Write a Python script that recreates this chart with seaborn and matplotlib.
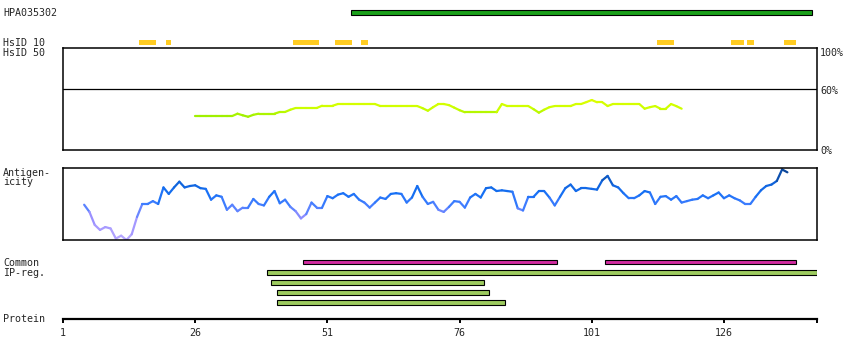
import numpy as np
import pandas as pd
import matplotlib
matplotlib.use("Agg")
import matplotlib.pyplot as plt
from matplotlib.colors import LinearSegmentedColormap, Normalize
import seaborn as sns

# Protein / tracks (residue coordinates)
protein_end = 143.6
tick_residues = [1, 26, 51, 76, 101, 126]

hpa_start, hpa_end = 55.5, 142.6

hsid10_start = [15.4, 20.5, 44.5, 52.5, 57.4, 113.4, 127.4, 130.4, 137.4]
hsid10_end = [18.6, 21.4, 49.4, 55.7, 58.7, 116.6, 129.8, 131.7, 139.7]

common_start = [46.4, 103.6]
common_end = [94.5, 139.6]

ipreg_start = [39.5, 40.4, 41.5, 41.5]
ipreg_end = [143.6, 80.6, 81.5, 84.6]

# HsID 50 conservation (%) for residues 26-118
cons_res = list(range(26, 119))
cons_pct = [33.3, 33.3, 33.3, 33.3, 33.3, 33.3, 33.3, 33.3, 35.6, 34.0,
            32.6, 34.5, 35.6, 35.6, 35.6, 35.6, 37.3, 37.3, 39.5, 41.2,
            41.2, 41.2, 41.2, 41.2, 43.4, 43.4, 43.4, 45.1, 45.1, 45.1,
            45.1, 45.1, 45.1, 45.1, 45.1, 43.1, 43.1, 43.1, 43.1, 43.1,
            43.1, 43.1, 43.1, 41.0, 38.5, 42.0, 45.1, 45.1, 44.0, 41.5,
            39.0, 37.0, 37.0, 37.0, 37.0, 37.0, 37.0, 37.0, 45.1, 43.1,
            43.1, 43.1, 43.1, 43.1, 40.0, 36.6, 39.5, 42.0, 43.1, 43.1,
            43.1, 43.1, 45.1, 45.1, 47.0, 49.0, 46.8, 46.8, 43.1, 45.1,
            45.1, 45.1, 45.1, 45.1, 45.1, 40.5, 42.0, 43.1, 40.5, 40.5,
            45.1, 43.0, 40.5]

# Antigenicity (scaled 0-1) for residues 5-138
anti_res = list(range(5, 139))
anti_val = [0.49, 0.39, 0.21, 0.14, 0.18, 0.16, 0.02, 0.06, 0.00, 0.08,
            0.32, 0.50, 0.50, 0.54, 0.50, 0.73, 0.64, 0.73, 0.81, 0.73,
            0.75, 0.76, 0.72, 0.71, 0.56, 0.62, 0.60, 0.42, 0.49, 0.40,
            0.45, 0.45, 0.57, 0.50, 0.48, 0.60, 0.68, 0.51, 0.56, 0.46,
            0.40, 0.30, 0.36, 0.52, 0.45, 0.45, 0.61, 0.58, 0.63, 0.65,
            0.60, 0.64, 0.56, 0.52, 0.45, 0.52, 0.59, 0.57, 0.64, 0.65,
            0.64, 0.52, 0.59, 0.75, 0.60, 0.50, 0.53, 0.42, 0.39, 0.46,
            0.54, 0.53, 0.45, 0.59, 0.64, 0.59, 0.72, 0.73, 0.68, 0.69,
            0.68, 0.67, 0.44, 0.41, 0.60, 0.60, 0.68, 0.68, 0.59, 0.48,
            0.60, 0.72, 0.77, 0.68, 0.72, 0.72, 0.71, 0.70, 0.83, 0.89,
            0.76, 0.73, 0.65, 0.58, 0.58, 0.62, 0.68, 0.66, 0.50, 0.60,
            0.61, 0.56, 0.61, 0.52, 0.54, 0.56, 0.57, 0.62, 0.58, 0.62,
            0.66, 0.58, 0.62, 0.58, 0.55, 0.50, 0.50, 0.60, 0.69, 0.75,
            0.77, 0.82, 0.98, 0.94]

W, H = 850, 360
FS = 7.2


def fx(x):
    return x / W


def fy(y):
    return 1 - y / H


def seg_table(xs, ys, cmap, norm):
    """Split a series into 2-point segments, each with its own colour."""
    rows, pal = [], {}
    for i in range(len(xs) - 1):
        rows.append((i, xs[i], ys[i]))
        rows.append((i, xs[i + 1], ys[i + 1]))
        pal[i] = cmap(norm((ys[i] + ys[i + 1]) / 2))
    return pd.DataFrame(rows, columns=["seg", "res", "val"]), pal


sns.set_style("white")
plt.rcParams['font.family'] = ['DejaVu Sans Mono', 'DejaVu Sans']
plt.rcParams['font.size'] = FS
plt.rcParams['lines.solid_capstyle'] = 'round'

fig = plt.figure(figsize=(W / 100, H / 100), dpi=100)
left, width = fx(63), (817 - 63) / W

# Track axes: x in residues, y in pixel rows
ax_t = fig.add_axes([left, 0, width, 1])
ax_t.set_xlim(1, protein_end)
ax_t.set_ylim(H, 0)
ax_t.axis('off')

ax_t.barh(12.4, hpa_end - hpa_start, left=hpa_start, height=4.2,
          color='#1aa01a', edgecolor='black', linewidth=0.8)
ax_t.barh([42.4] * len(hsid10_start), np.subtract(hsid10_end, hsid10_start),
          left=hsid10_start, height=4.6, color='#ffcc22', linewidth=0)
ax_t.barh([262.2] * len(common_start), np.subtract(common_end, common_start),
          left=common_start, height=4.2, color='#d22ba0', edgecolor='black', linewidth=0.8)
ax_t.barh([272.5, 282.5, 292.5, 302.5], np.subtract(ipreg_end, ipreg_start),
          left=ipreg_start, height=4.2, color='#9dcb5f', edgecolor='black', linewidth=0.8)

# HsID 50 panel
ax_c = fig.add_axes([left, fy(150), width, 102 / H])
ax_c.set_xlim(1, protein_end)
ax_c.set_ylim(0, 100)
ax_c.axhline(60, color='black', linewidth=0.9)
cmap_c = LinearSegmentedColormap.from_list('cons', ['#99ee00', '#ccff00', '#e0ff00'])
df_c, pal_c = seg_table(cons_res, cons_pct, cmap_c, Normalize(32, 50))
sns.lineplot(data=df_c, x='res', y='val', hue='seg', palette=pal_c, legend=False,
             estimator=None, sort=False, linewidth=1.6, ax=ax_c)

# Antigenicity panel
ax_a = fig.add_axes([left, fy(240), width, 72 / H])
ax_a.set_xlim(1, protein_end)
ax_a.set_ylim(0, 1)
cmap_a = LinearSegmentedColormap.from_list(
    'anti', [(0.0, '#b8a8ff'), (0.3, '#9a90ff'), (0.5, '#3f7dff'),
             (0.65, '#1670f5'), (0.8, '#0f62d8'), (1.0, '#0a3f88')])
df_a, pal_a = seg_table(anti_res, anti_val, cmap_a, Normalize(0, 1))
sns.lineplot(data=df_a, x='res', y='val', hue='seg', palette=pal_a, legend=False,
             estimator=None, sort=False, linewidth=1.6, ax=ax_a)

for ax in (ax_c, ax_a):
    ax.set_xticks([])
    ax.set_yticks([])
    ax.set_xlabel('')
    ax.set_ylabel('')
    for s in ax.spines.values():
        s.set_visible(True)
        s.set_color('black')
        s.set_linewidth(1.1)

# Protein axis
ax_p = fig.add_axes([left, fy(319.3), width, 0.5 / H])
ax_p.set_xlim(1, protein_end)
ax_p.set_yticks([])
for k in ('top', 'left', 'right'):
    ax_p.spines[k].set_visible(False)
ax_p.spines['bottom'].set_linewidth(1.6)
ax_p.spines['bottom'].set_color('black')
ax_p.set_xticks(tick_residues + [protein_end])
ax_p.set_xticklabels([str(t) for t in tick_residues] + [''])
ax_p.tick_params(axis='x', direction='out', length=3.0, width=1.4, pad=3.5,
                 labelsize=FS, bottom=True, color='black')
ax_p.patch.set_alpha(0)

# Text labels
labels = [("HPA035302", 16.5), ("HsID 10", 45.5), ("HsID 50", 56.0),
          ("Antigen-", 176.0), ("icity", 185.5), ("Common", 266.0),
          ("IP-reg.", 275.5), ("Protein", 322.5)]
for s, y in labels:
    fig.text(fx(3), fy(y), s, ha='left', va='baseline', fontsize=FS)
for s, y in [("100%", 55.7), ("60%", 94.0), ("0%", 153.5)]:
    fig.text(fx(820), fy(y), s, ha='left', va='baseline', fontsize=FS)

fig.savefig('out.png', dpi=100)
plt.close(fig)
